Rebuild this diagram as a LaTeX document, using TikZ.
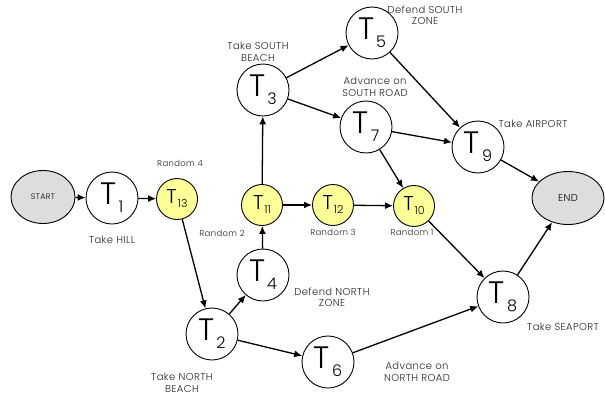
\documentclass[tikz,border=0pt]{standalone}
\usepackage{fontspec}
\setmainfont{Poppins}[UprightFont=* Light]
\newfontfamily\lblfont{Poppins}[UprightFont=* Light,LetterSpace=4]
\usetikzlibrary{arrows.meta,shapes.geometric}
\definecolor{ylw}{HTML}{FFFF99}
\definecolor{gry}{HTML}{DDDDDD}
\newcommand{\Tbig}[1]{{\fontsize{31}{31}\selectfont T}\hspace{2pt}\raisebox{-8pt}{\fontsize{16}{16}\selectfont #1}}
\newcommand{\Tsmall}[1]{{\fontsize{20}{20}\selectfont T}\hspace{1pt}\raisebox{-4pt}{\fontsize{11}{11}\selectfont #1}}
\begin{document}
\begin{tikzpicture}[x=1pt,y=-1pt,
  big/.style={circle,draw,line width=0.9pt,fill=white,minimum size=52pt,inner sep=0pt},
  small/.style={circle,draw,line width=0.9pt,fill=ylw,minimum size=41pt,inner sep=0pt},
  term/.style={ellipse,draw,line width=0.9pt,fill=gry,minimum width=64pt,minimum height=53pt,inner sep=0pt,font=\lblfont\fontsize{8}{8}\selectfont},
  lbl/.style={font=\lblfont\fontsize{10}{11.5}\selectfont,align=center,text=black!85},
  arr/.style={-{Latex[length=8pt,width=7pt]},line width=1.3pt}]
\useasboundingbox (0,0) rectangle (605,399);
\node[term] (start) at (43,197) {START};
\node[term,minimum width=72pt,font=\lblfont\fontsize{10}{10}\selectfont] (end) at (568,198) {END};
\node[big] (t1) at (112,198) {\Tbig{1}};
\node[small] (t13) at (177,199) {\Tsmall{13}};
\node[big] (t2) at (212,334) {\Tbig{2}};
\node[big] (t3) at (263,90) {\Tbig{3}};
\node[big] (t4) at (263,275) {\Tbig{4}};
\node[big] (t5) at (372,33) {\Tbig{5}};
\node[big] (t6) at (328,362) {\Tbig{6}};
\node[big] (t7) at (366,127) {\Tbig{7}};
\node[big] (t8) at (503,297) {\Tbig{8}};
\node[big] (t9) at (478,147) {\Tbig{9}};
\node[small] (t10) at (414,206) {\Tsmall{10}};
\node[small] (t11) at (262,205) {\Tsmall{11}};
\node[small] (t12) at (333,205) {\Tsmall{12}};
\node[lbl] (l1) at (112,240) {Take HILL};
\node[lbl,font=\lblfont\fontsize{8.5}{10}\selectfont] (l13) at (180,163) {Random 4};
\node[lbl,font=\lblfont\fontsize{8.5}{10}\selectfont] (l11) at (222,233) {Random 2};
\node[lbl,font=\lblfont\fontsize{8.5}{10}\selectfont] (l12) at (333,232) {Random 3};
\node[lbl,font=\lblfont\fontsize{8.5}{10}\selectfont] (l10) at (412,232) {Random 1};
\node[lbl] (l3) at (258,52) {Take SOUTH\\BEACH};
\node[lbl] (l5) at (425,15) {Defend SOUTH\\ZONE};
\node[lbl] (l7) at (375,87) {Advance on\\SOUTH ROAD};
\node[lbl] (l9) at (533,124) {Take AIRPORT};
\node[lbl] (l4) at (332,297) {Defend NORTH\\ZONE};
\node[lbl] (l8) at (563,327) {Take SEAPORT};
\node[lbl] (l2) at (182,383) {Take NORTH\\BEACH};
\node[lbl] (l6) at (417,372) {Advance on\\NORTH ROAD};
\draw[arr] (start) -- (t1);
\draw[arr] (t1) -- (t13);
\draw[arr] (t13) -- (t2);
\draw[arr] (t2) -- (t4);
\draw[arr] (t2) -- (t6);
\draw[arr] (t4) -- (t11);
\draw[arr] (t11) -- (t3);
\draw[arr] (t11) -- (t12);
\draw[arr] (t12) -- (t10);
\draw[arr] (t3) -- (t5);
\draw[arr] (t3) -- (t7);
\draw[arr] (t5) -- (t9);
\draw[arr] (t7) -- (t9);
\draw[arr] (t7) -- (t10);
\draw[arr] (t9) -- (end);
\draw[arr] (t10) -- (t8);
\draw[arr] (t6) -- (t8);
\draw[arr] (t8) -- (end);
\end{tikzpicture}
\end{document}
